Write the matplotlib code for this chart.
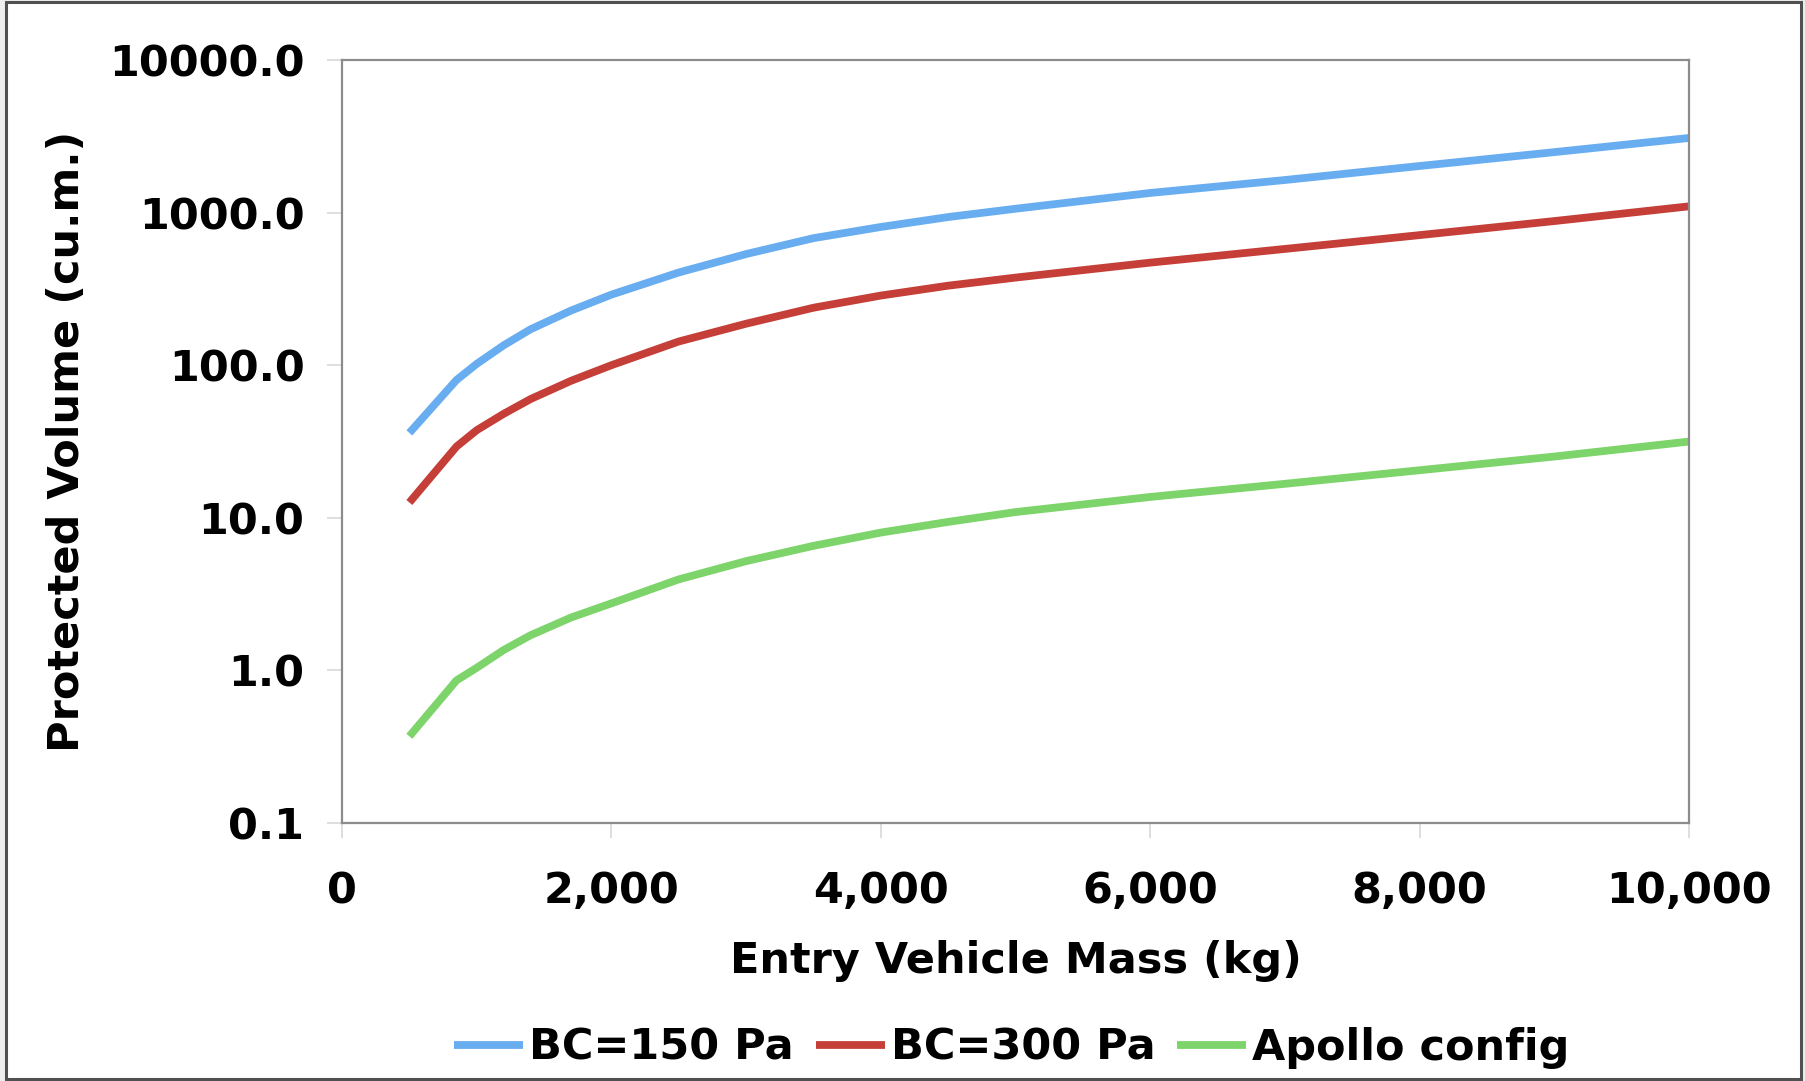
import numpy as np
import matplotlib
matplotlib.use("Agg")
import matplotlib.pyplot as plt
import matplotlib as mpl
from matplotlib.patches import Rectangle

# values
mass_kg = [500, 850, 1000, 1200, 1400, 1700, 2000, 2500, 3000, 3500,
           4000, 4500, 5000, 6000, 7000, 8000, 9000, 10000]
vol_bc150 = [36, 80, 102, 135, 172, 228, 290, 405, 535, 680,
             805, 935, 1060, 1345, 1635, 2020, 2490, 3083]
vol_bc300 = [12.6, 29.3, 37.5, 48, 60, 79, 100, 143, 187, 238,
             286, 332, 375, 470, 578, 712, 880, 1099]
vol_apollo = [0.37, 0.86, 1.04, 1.36, 1.7, 2.22, 2.75, 3.95, 5.2, 6.55,
              8.0, 9.4, 10.9, 13.7, 16.7, 20.5, 25.2, 31.6]

series_labels = ['BC=150 Pa', 'BC=300 Pa', 'Apollo config']
series_colors = ['#68adf0', '#c53f38', '#7dd46a']

y_ticks = [0.1, 1, 10, 100, 1000, 10000]
x_ticks = [0, 2000, 4000, 6000, 8000, 10000]

W, H = 1806, 1081
fig = plt.figure(figsize=(W / 100, H / 100), dpi=100)
fig.patch.set_facecolor('#eeeeee')
# outer frame of the original picture
fig.patches.append(Rectangle((6 / W, 2 / H), 1795 / W, 1077 / H,
                             transform=fig.transFigure, facecolor='white',
                             edgecolor='#505050', linewidth=2.2, zorder=-5))

ax = fig.add_axes([342 / W, 1 - 823 / H, 1347 / W, 763 / H])
ax.set_facecolor('white')

for vals, lab, col in zip([vol_bc150, vol_bc300, vol_apollo], series_labels, series_colors):
    ax.plot(mass_kg, vals, color=col, lw=5.6, label=lab, solid_capstyle='butt',
            solid_joinstyle='round')

ax.set_yscale('log')
ax.set_ylim(0.1, 10000)
ax.set_xlim(0, 10000)
ax.set_yticks(y_ticks)
ax.yaxis.set_minor_locator(mpl.ticker.NullLocator())
ax.yaxis.set_major_formatter(mpl.ticker.FuncFormatter(lambda v, p: f'{v:.1f}'))
ax.set_xticks(x_ticks)
ax.xaxis.set_major_formatter(mpl.ticker.FuncFormatter(lambda v, p: format(int(v), ',')))

font = dict(family='DejaVu Sans', weight='bold', size=31)
for t in ax.get_xticklabels() + ax.get_yticklabels():
    t.set_fontproperties(mpl.font_manager.FontProperties(**font))

ax.tick_params(axis='both', which='major', length=11, width=1.2, color='#d8d8d8', direction='out')
ax.tick_params(axis='y', pad=16)
ax.tick_params(axis='x', pad=23)

for s in ax.spines.values():
    s.set_color('#8c8c8c')
    s.set_linewidth(1.6)

ax.set_xlabel('Entry Vehicle Mass (kg)', va='center', **font)
ax.xaxis.set_label_coords(0.5, (823 - 961) / 763)
ax.set_ylabel('Protected Volume (cu.m.)', va='center', **font)
ax.yaxis.set_label_coords((67 - 342) / 1347, 0.5)

fig.legend(loc='center', bbox_to_anchor=(1012 / W, 33 / H), ncol=3, frameon=False,
           prop=mpl.font_manager.FontProperties(**font), handlelength=1.6,
           handletextpad=0.15, columnspacing=0.5, borderaxespad=0)

plt.savefig('out.png', dpi=100, facecolor=fig.get_facecolor())
